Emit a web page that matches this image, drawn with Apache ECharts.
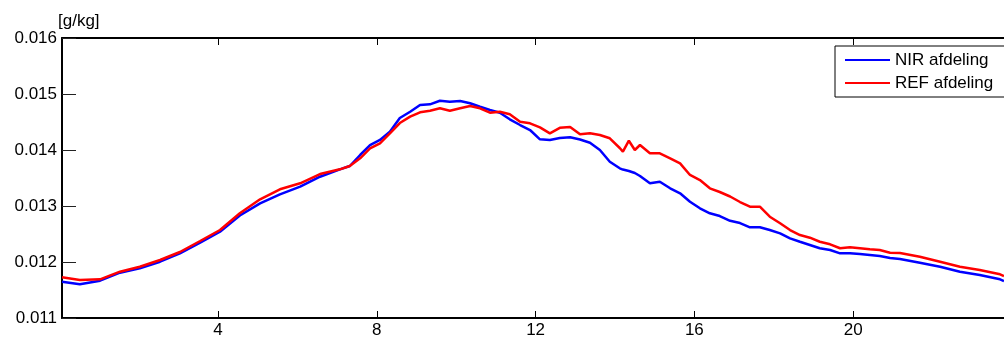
<!DOCTYPE html>
<html>
<head>
<meta charset="utf-8">
<script src="https://cdn.jsdelivr.net/npm/echarts@6/dist/echarts.min.js"></script>
<style>
html,body{margin:0;padding:0;background:#fff;}
#chart{width:1004px;height:340px;}
</style>
</head>
<body>
<div id="chart"></div>
<script>
// hours
var hours = [0.07,0.52,1.03,1.53,2.03,2.54,3.04,3.55,4.05,4.55,5.06,5.56,6.07,6.57,7.07,
  7.32,7.58,7.83,8.08,8.33,8.58,8.84,9.09,9.34,9.59,9.84,10.10,10.35,10.60,10.85,11.10,11.35,11.61,11.86,12.11,12.36,12.61,12.87,13.12,13.37,13.62,13.87,14.12,
  14.20,14.35,14.50,
  14.63,14.88,15.13,15.39,15.64,15.89,16.14,16.39,16.64,16.90,17.15,17.40,17.65,17.90,18.16,18.41,18.66,18.91,19.16,19.42,19.67,19.92,20.17,20.42,20.67,20.93,21.18,
  21.68,22.19,22.69,23.19,23.70,23.80];

var nirValues = [0.011648,0.011602,0.011666,0.011809,0.011887,0.012005,0.012155,0.012345,0.012541,0.012830,0.013048,0.013209,0.013345,0.013523,0.013655,
  0.013714,0.013911,0.014089,0.014179,0.014327,0.014571,0.014684,0.014804,0.014816,0.014880,0.014862,0.014875,0.014834,0.014773,0.014714,0.014666,0.014548,0.014446,0.014357,0.014191,0.014179,0.014214,0.014227,0.014187,0.014130,0.014000,0.013791,0.013673,
  0.013651,0.013625,0.013589,
  0.013536,0.013405,0.013434,0.013316,0.013227,0.013077,0.012959,0.012870,0.012821,0.012736,0.012696,0.012620,0.012620,0.012571,0.012512,0.012423,0.012362,0.012304,0.012245,0.012214,0.012155,0.012155,0.012143,0.012125,0.012107,0.012071,0.012054,
  0.011987,0.011916,0.011827,0.011768,0.011691,0.011661];

var refValues = [0.011727,0.011679,0.011691,0.011827,0.011916,0.012036,0.012179,0.012375,0.012571,0.012870,0.013120,0.013298,0.013405,0.013571,0.013655,
  0.013714,0.013852,0.014030,0.014120,0.014298,0.014482,0.014595,0.014673,0.014702,0.014745,0.014702,0.014745,0.014786,0.014745,0.014666,0.014684,0.014637,0.014505,0.014477,0.014405,0.014298,0.014396,0.014411,0.014280,0.014298,0.014268,0.014209,0.014036,
  0.013970,0.014166,0.014000,
  0.014089,0.013941,0.013941,0.013852,0.013762,0.013554,0.013464,0.013316,0.013250,0.013170,0.013071,0.012987,0.012987,0.012809,0.012691,0.012571,0.012482,0.012434,0.012362,0.012316,0.012245,0.012262,0.012245,0.012227,0.012214,0.012166,0.012161,
  0.012095,0.012005,0.011916,0.011857,0.011780,0.011750];

var seriesNames = ['NIR afdeling', 'REF afdeling'];
var xTicks = [4, 8, 12, 16, 20];
var yUnit = '[g/kg]';

function pairs(xs, ys){ return xs.map(function(x,i){ return [x, ys[i]]; }); }

var font = 'Liberation Sans, Arial, Helvetica, sans-serif';
var chart = echarts.init(document.getElementById('chart'), null, {renderer:'canvas'});
chart.setOption({
  animation: false,
  backgroundColor: '#fff',
  grid: { left: 62, top: 38, right: 0, bottom: 22, containLabel: false },
  legend: {
    orient: 'vertical', left: 835, top: 46,
    data: seriesNames,
    icon: 'rect',
    itemWidth: 45, itemHeight: 2, itemGap: 5,
    padding: [5, 40, 5, 10],
    borderColor: '#000', borderWidth: 1, backgroundColor: '#fff',
    textStyle: { fontFamily: font, fontSize: 17, lineHeight: 18, color: '#000' }
  },
  xAxis: [{
    type: 'value', min: 0.07, max: 23.8, position: 'bottom',
    axisLine: { show: true, onZero: false, lineStyle: { color: '#000', width: 2 } },
    axisTick: { show: true, inside: true, length: 7, customValues: xTicks, lineStyle: { color: '#000', width: 1 } },
    axisLabel: { show: true, customValues: xTicks, margin: 4, fontFamily: font, fontSize: 17, color: '#000' },
    splitLine: { show: false }
  }, {
    type: 'value', min: 0.07, max: 23.8, position: 'top',
    axisLine: { show: true, onZero: false, lineStyle: { color: '#000', width: 2 } },
    axisTick: { show: true, inside: true, length: 7, customValues: xTicks, lineStyle: { color: '#000', width: 1 } },
    axisLabel: { show: false },
    splitLine: { show: false }
  }],
  yAxis: {
    type: 'value', min: 0.011, max: 0.016, interval: 0.001,
    name: yUnit, nameLocation: 'end', nameGap: 8,
    nameTextStyle: { fontFamily: font, fontSize: 17, color: '#000', align: 'left', padding: [0,0,0,-4] },
    axisLine: { show: true, onZero: false, lineStyle: { color: '#000', width: 2 } },
    axisTick: { show: true, inside: true, length: 14, lineStyle: { color: '#222', width: 1 } },
    axisLabel: { margin: 5, fontFamily: font, fontSize: 17, color: '#000',
      formatter: function(v){ return v.toFixed(3); } },
    splitLine: { show: false }
  },
  series: [{
    name: seriesNames[0], type: 'line', xAxisIndex: 0,
    data: pairs(hours, nirValues),
    showSymbol: false, symbol: 'none',
    lineStyle: { color: '#0000ff', width: 2.5 }, itemStyle: { color: '#0000ff' }
  }, {
    name: seriesNames[1], type: 'line', xAxisIndex: 0,
    data: pairs(hours, refValues),
    showSymbol: false, symbol: 'none',
    lineStyle: { color: '#ff0000', width: 2.5 }, itemStyle: { color: '#ff0000' }
  }]
});
</script>
</body>
</html>
